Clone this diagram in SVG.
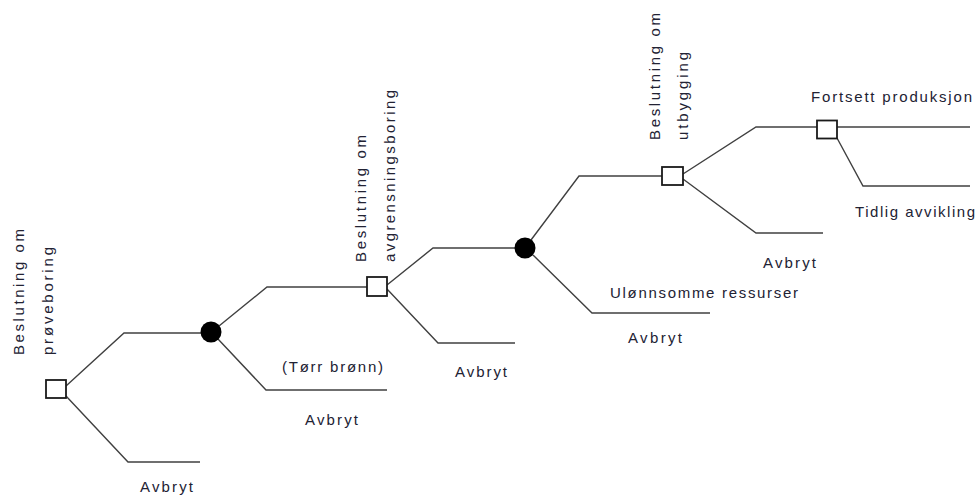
<svg xmlns="http://www.w3.org/2000/svg" width="980" height="496" viewBox="0 0 980 496">
<style>
  .ln { fill: none; stroke: #404040; stroke-width: 1.4; }
  .dec { fill: #ffffff; stroke: #1a1a1a; stroke-width: 1.8; }
  .ch { fill: #000000; }
  text { font-family: "Liberation Sans", Arial, sans-serif; font-size: 15px; fill: #222233; }
</style>
<rect width="980" height="496" fill="#ffffff"/>
<g id="connectors">
  <polyline class="ln" points="66,386 124,333 201,333"/>
  <polyline class="ln" points="66,396 128,462 200,462"/>
  <polyline class="ln" points="219,326 267,287 367,287"/>
  <polyline class="ln" points="218,339 266,390 387,390"/>
  <polyline class="ln" points="387,285 433,248 515,248"/>
  <polyline class="ln" points="387,289 438,343 515,343"/>
  <polyline class="ln" points="531,240 579,176 662,176"/>
  <polyline class="ln" points="533,255 592,313 710,313"/>
  <polyline class="ln" points="683,174 756,127 817,127"/>
  <polyline class="ln" points="683,179 756,233 823,233"/>
  <polyline class="ln" points="837,127 970,127"/>
  <polyline class="ln" points="837,138 863,186 970,186"/>
</g>
<g id="d1">
  <rect class="dec" x="46" y="380" width="20" height="18"/>
  <text transform="translate(24,355) rotate(-90)" textLength="126" lengthAdjust="spacing">Beslutning om</text>
  <text transform="translate(52.5,355) rotate(-90)" textLength="108" lengthAdjust="spacing">prøveboring</text>
</g>
<g id="a1">
  <text x="140" y="492" textLength="53" lengthAdjust="spacing">Avbryt</text>
</g>
<g id="c1">
  <circle class="ch" cx="211" cy="332" r="10.5"/>
  <text x="282" y="372" textLength="101" lengthAdjust="spacing">(Tørr brønn)</text>
</g>
<g id="a2">
  <text x="305" y="425" textLength="53" lengthAdjust="spacing">Avbryt</text>
</g>
<g id="d2">
  <rect class="dec" x="367" y="277" width="20" height="19"/>
  <text transform="translate(366,262) rotate(-90)" textLength="127" lengthAdjust="spacing">Beslutning om</text>
  <text transform="translate(395,262) rotate(-90)" textLength="172" lengthAdjust="spacing">avgrensningsboring</text>
</g>
<g id="a3">
  <text x="455" y="377" textLength="52" lengthAdjust="spacing">Avbryt</text>
</g>
<g id="c2">
  <circle class="ch" cx="525" cy="248" r="10.5"/>
  <text x="610" y="298" textLength="188" lengthAdjust="spacing">Ulønnsomme ressurser</text>
</g>
<g id="a4">
  <text x="628" y="343" textLength="54" lengthAdjust="spacing">Avbryt</text>
</g>
<g id="d3">
  <rect class="dec" x="662" y="167" width="21" height="18"/>
  <text transform="translate(659.5,140) rotate(-90)" textLength="127" lengthAdjust="spacing">Beslutning om</text>
  <text transform="translate(688,140) rotate(-90)" textLength="88" lengthAdjust="spacing">utbygging</text>
</g>
<g id="a5">
  <text x="763" y="268" textLength="53" lengthAdjust="spacing">Avbryt</text>
</g>
<g id="d4">
  <rect class="dec" x="817" y="120.5" width="20" height="18"/>
  <text x="811" y="101.5" textLength="161" lengthAdjust="spacing">Fortsett produksjon</text>
</g>
<g id="e1">
  <text x="855" y="216.5" textLength="120" lengthAdjust="spacing">Tidlig avvikling</text>
</g>
</svg>
